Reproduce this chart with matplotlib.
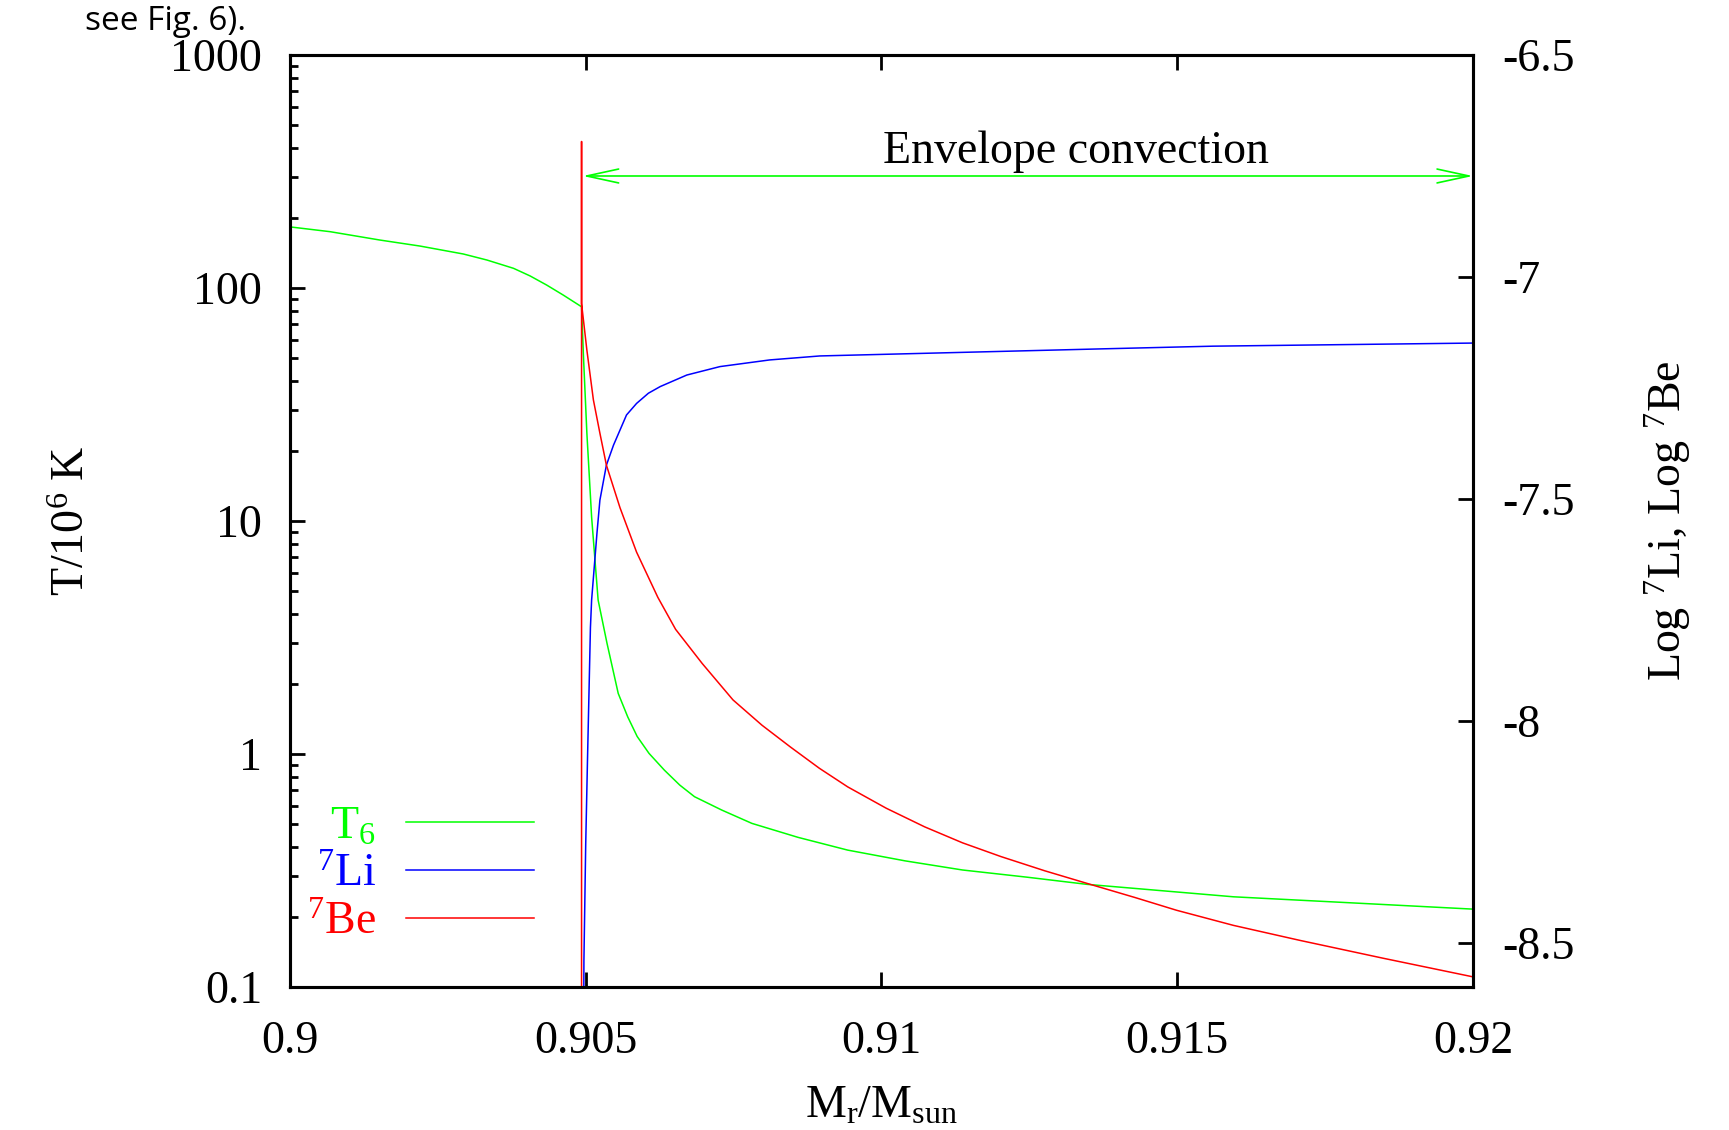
import matplotlib
matplotlib.use("Agg")
import matplotlib.pyplot as plt
from matplotlib.ticker import FixedLocator, LogLocator, NullFormatter

# values
mass_T = [0.90000, 0.90068, 0.90152, 0.90220, 0.90293, 0.90333, 0.90378, 0.90406,
          0.90434, 0.90462, 0.90493, 0.90496, 0.90502, 0.90510, 0.90521, 0.90536,
          0.90555, 0.90571, 0.90587, 0.90607, 0.90633, 0.90659, 0.90684, 0.90730,
          0.90781, 0.90859, 0.90943, 0.91040, 0.91137, 0.91247, 0.91347, 0.91595,
          0.91792, 0.92000]
T6 = [183.0, 174.5, 160.7, 151.4, 140.0, 131.9, 121.5, 112.7,
      103.0, 93.3, 83.1, 52.4, 23.8, 10.4, 4.58, 2.99,
      1.82, 1.445, 1.19, 1.007, 0.853, 0.736, 0.656, 0.575,
      0.504, 0.439, 0.387, 0.348, 0.318, 0.296, 0.276, 0.244,
      0.230, 0.216]

mass_li = [0.90496, 0.90497, 0.90500, 0.90503, 0.90508, 0.90510, 0.90519, 0.90524,
           0.90535, 0.90547, 0.90558, 0.90569, 0.90586, 0.90606, 0.90626, 0.90671,
           0.90727, 0.90811, 0.90896, 0.91374, 0.91560, 0.92000]
log_li = [-8.90, -8.54, -8.28, -8.09, -7.79, -7.728, -7.578, -7.503,
          -7.424, -7.379, -7.345, -7.311, -7.285, -7.262, -7.247, -7.221,
          -7.202, -7.187, -7.178, -7.162, -7.156, -7.149]

mass_be = [0.90493, 0.90493, 0.90493, 0.90502, 0.90513, 0.90524, 0.90535, 0.90558,
           0.90586, 0.90622, 0.90652, 0.90697, 0.90749, 0.90798, 0.90846, 0.90895,
           0.90943, 0.91008, 0.91073, 0.91137, 0.91202, 0.91276, 0.91349, 0.91428,
           0.91499, 0.91595, 0.91708, 0.91848, 0.92000]
log_be = [-8.90, -6.695, -7.060, -7.165, -7.277, -7.352, -7.424, -7.520,
          -7.620, -7.722, -7.794, -7.871, -7.953, -8.010, -8.059, -8.107,
          -8.149, -8.197, -8.239, -8.275, -8.306, -8.338, -8.367, -8.398,
          -8.427, -8.461, -8.495, -8.535, -8.577]

# envelope convection zone marker
env_start = 0.90495
env_end = 0.92
env_level = 302.6
env_text_x = 0.91329

x_ticks = [0.9, 0.905, 0.91, 0.915, 0.92]
x_labels = ["0.9", "0.905", "0.91", "0.915", "0.92"]
left_ticks = [0.1, 1, 10, 100, 1000]
left_labels = ["0.1", "1", "10", "100", "1000"]
right_ticks = [-8.5, -8, -7.5, -7, -6.5]
right_labels = ["-8.5", "-8", "-7.5", "-7", "-6.5"]

GREEN = "#00ff00"
BLUE = "#0000ff"
RED = "#ff0000"
FS = 33

plt.rcParams.update({
    "font.family": ["Liberation Serif", "DejaVu Serif"],
    "mathtext.fontset": "custom",
    "mathtext.rm": "Liberation Serif",
    "mathtext.it": "Liberation Serif:italic",
    "axes.unicode_minus": False,
    "font.size": FS,
})

fig = plt.figure(figsize=(17.29, 11.30), dpi=100)
ax = fig.add_axes([0.1677, 0.1265, 0.6842, 0.8248])
ax2 = ax.twinx()

l_t, = ax.plot(mass_T, T6, color=GREEN, lw=1.1, label=r"$\mathrm{T_6}$")
l_li, = ax2.plot(mass_li, log_li, color=BLUE, lw=1.1, label=r"${}^{7}\mathrm{Li}$")
l_be, = ax2.plot(mass_be, log_be, color=RED, lw=1.1, label=r"${}^{7}\mathrm{Be}$")

ax.set_xlim(0.9, 0.92)
ax.set_yscale("log")
ax.set_ylim(0.1, 1000)
ax2.set_ylim(-8.6, -6.5)

ax.set_xticks(x_ticks)
ax.set_xticklabels(x_labels)
ax.yaxis.set_major_locator(FixedLocator(left_ticks))
ax.set_yticklabels(left_labels)
ax.yaxis.set_minor_locator(LogLocator(base=10, subs=range(2, 10)))
ax.yaxis.set_minor_formatter(NullFormatter())
ax2.set_yticks(right_ticks)
ax2.set_yticklabels(right_labels)

ax.tick_params(axis="x", which="major", direction="in", top=True, bottom=True,
               length=11, width=2, pad=24, labelsize=FS)
ax.tick_params(axis="y", which="major", direction="in", left=True, right=False,
               length=11, width=2, pad=20, labelsize=FS)
ax.tick_params(axis="y", which="minor", direction="in", left=True, right=False,
               length=6, width=2)
ax2.tick_params(axis="y", which="major", direction="in", length=11, width=2,
                pad=21, labelsize=FS)
for a in (ax, ax2):
    for s in a.spines.values():
        s.set_linewidth(2.2)

ax.set_xlabel(r"M$_{\mathrm{r}}$/M$_{\mathrm{sun}}$", fontsize=FS)
ax.xaxis.set_label_coords(0.5, -0.105)
ax.set_ylabel(r"T/10$^{6}$ K", fontsize=FS)
ax.yaxis.set_label_coords(-0.1657, 0.5)
ax2.set_ylabel(r"Log $^{7}$Li, Log $^{7}$Be", fontsize=FS)
ax2.yaxis.set_label_coords(1.1437, 0.5)

# envelope convection arrow
ax.annotate("", xy=(env_end, env_level), xytext=(env_start, env_level),
            arrowprops=dict(arrowstyle="<->,head_length=1.15,head_width=0.25",
                            color=GREEN, lw=1.2, shrinkA=0, shrinkB=0,
                            mutation_scale=20))
ax.text(env_text_x, 0.884, "Envelope convection", transform=ax.get_xaxis_transform(),
        ha="center", va="baseline", fontsize=FS)

leg = ax2.legend(handles=[l_t, l_li, l_be], loc="center right",
                 bbox_to_anchor=(0.2063, 0.120), frameon=False, markerfirst=False,
                 labelcolor="linecolor", handlelength=2.8, handletextpad=0.65,
                 labelspacing=0.12, borderpad=0, borderaxespad=0, fontsize=FS)

# remnant of the surrounding page text
fig.text(246 / 1729, 1 - 30 / 1130, "see Fig. 6).", ha="right", va="baseline",
         family="Open Sans", fontsize=24)

fig.savefig("out.png", dpi=100)
